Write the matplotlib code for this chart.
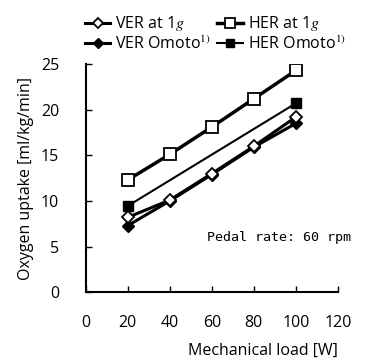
import matplotlib
matplotlib.use("Agg")
import matplotlib.pyplot as plt

plt.rcParams['font.family'] = ['Open Sans', 'DejaVu Sans']
plt.rcParams['mathtext.fontset'] = 'stix'

# data
loads = [20, 40, 60, 80, 100]
ver_1g = [8.2, 10.1, 13.0, 16.0, 19.2]
her_1g = [12.3, 15.1, 18.1, 21.2, 24.3]
ver_omoto = [7.3, 10.0, 12.9, 15.9, 18.5]
omoto_loads = [20, 100]
her_omoto = [9.45, 20.7]

fig = plt.figure(figsize=(3.71, 3.58), dpi=100)
ax = fig.add_axes([0.2307, 0.1835, 0.6803, 0.6377])

ax.plot(loads, ver_omoto, color='black', lw=2.2, marker='D', ms=6,
        mfc='black', mec='black', label='VER Omoto$^{1)}$', zorder=3)
ax.plot(omoto_loads, her_omoto, color='black', lw=1.5, marker='s', ms=7,
        mfc='black', mec='black', label='HER Omoto$^{1)}$', zorder=3)
ax.plot(loads, ver_1g, color='black', lw=2.2, marker='D', ms=6,
        mfc='white', mec='black', mew=1.3, label='VER at 1$g$', zorder=4)
ax.plot(loads, her_1g, color='black', lw=2.5, marker='s', ms=8,
        mfc='white', mec='black', mew=1.3, label='HER at 1$g$', zorder=4)

ax.set_xlim(0, 120)
ax.set_ylim(0, 25)
ax.set_xticks(range(0, 121, 20))
ax.set_yticks(range(0, 26, 5))
ax.spines['top'].set_visible(False)
ax.spines['right'].set_visible(False)
ax.spines['left'].set_linewidth(1.5)
ax.spines['bottom'].set_linewidth(1.5)
ax.tick_params(direction='in', length=4, width=1, labelsize=11.5)
ax.tick_params(axis='x', pad=16)
ax.tick_params(axis='y', pad=19)

ax.set_xlabel('Mechanical load [W]', fontsize=11.5, labelpad=9, loc='right')
ax.set_ylabel('Oxygen uptake [ml/kg/min]', fontsize=11.5, labelpad=5)

ax.text(0.481, 0.225, 'Pedal rate: 60 rpm', transform=ax.transAxes,
        family='DejaVu Sans Mono', fontsize=9.6, clip_on=False)

handles, labels = ax.get_legend_handles_labels()
order = [2, 0, 3, 1]
leg = fig.legend([handles[i] for i in order], [labels[i] for i in order],
                 loc='upper left', bbox_to_anchor=(0.19, 1.0), ncol=2,
                 frameon=False, fontsize=11.5, handlelength=1.6,
                 handletextpad=0.3, columnspacing=0.4, labelspacing=0.15,
                 markerscale=0.85)

fig.savefig('out.png', dpi=100)
